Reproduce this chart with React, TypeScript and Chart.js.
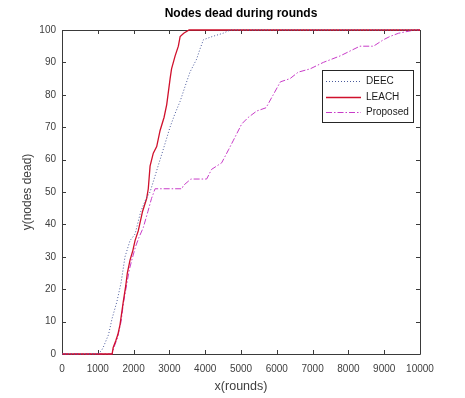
import React, { useEffect, useRef } from 'react';
import { Chart, registerables } from 'chart.js';
Chart.register(...registerables);

const chartTitle = 'Nodes dead during rounds';
const xTitle = 'x(rounds)';
const yTitle = 'y(nodes dead)';
const seriesNames = ['DEEC', 'LEACH', 'Proposed'];
const xTickValues = [0, 1000, 2000, 3000, 4000, 5000, 6000, 7000, 8000, 9000, 10000];
const yTickValues = [0, 10, 20, 30, 40, 50, 60, 70, 80, 90, 100];

const deecRounds = [0, 1000, 1100, 1150, 1300, 1400, 1530, 1650, 1760, 1900, 2040, 2200, 2350, 2460, 2600, 2740, 2880, 3017, 3150, 3300, 3450, 3575, 3760, 3850, 3950, 4200, 4500, 4700, 10000];
const deecDead = [0, 0, 1, 2, 6, 11, 16, 22, 30, 35, 37, 44, 48, 50, 55, 60, 65, 70, 74, 78, 83, 87, 91, 94, 97, 98, 99, 100, 100];

const leachRounds = [0, 1400, 1430, 1500, 1560, 1620, 1710, 1780, 1825, 1900, 1980, 2040, 2130, 2250, 2365, 2410, 2460, 2550, 2645, 2740, 2850, 2925, 3020, 3060, 3160, 3250, 3300, 3400, 3550, 10000];
const leachDead = [0, 0, 2, 4, 6, 9, 16, 21, 25, 29, 32, 35, 38, 44, 48, 51, 58, 62, 64, 69, 73, 77, 85, 88, 92, 95, 98, 99, 100, 100];

const proposedRounds = [0, 1400, 1450, 1550, 1650, 1720, 1800, 1880, 1950, 2050, 2150, 2270, 2400, 2500, 2600, 3350, 3390, 3600, 4040, 4180, 4460, 4650, 4790, 5020, 5200, 5440, 5700, 5900, 6100, 6370, 6600, 6930, 7300, 7770, 8320, 8700, 8980, 9160, 9400, 9850, 10000];
const proposedDead = [0, 0, 2, 5, 10, 16, 21, 26, 29, 33, 36, 39, 44, 48, 51, 51, 52, 54, 54, 57, 59, 63, 66, 71, 73, 75, 76, 80, 84, 85, 87, 88, 90, 92, 95, 95, 97, 98, 99, 100, 100];

const colors = ['#4a5a9c', '#d0102c', '#c83cc8'];
const dashes: number[][] = [[1, 2], [], [6, 2, 1.5, 2]];

const toPoints = (xs: number[], ys: number[]) => xs.map((x, i) => ({ x, y: ys[i] }));

const framePlugin = {
  id: 'matlabFrame',
  beforeDatasetsDraw(chart: any) {
    const { ctx, chartArea: a, scales } = chart;
    ctx.save();
    ctx.strokeStyle = '#3a3a3a';
    ctx.lineWidth = 1;
    ctx.beginPath();
    ctx.rect(Math.round(a.left) + 0.5, Math.round(a.top) + 0.5, Math.round(a.right - a.left), Math.round(a.bottom - a.top));
    const tl = 4;
    xTickValues.forEach((v) => {
      const px = Math.round(scales.x.getPixelForValue(v)) + 0.5;
      ctx.moveTo(px, a.bottom);
      ctx.lineTo(px, a.bottom - tl);
      ctx.moveTo(px, a.top);
      ctx.lineTo(px, a.top + tl);
    });
    yTickValues.forEach((v) => {
      const py = Math.round(scales.y.getPixelForValue(v)) + 0.5;
      ctx.moveTo(a.left, py);
      ctx.lineTo(a.left + tl, py);
      ctx.moveTo(a.right, py);
      ctx.lineTo(a.right - tl, py);
    });
    ctx.stroke();
    ctx.restore();
  },
  afterDatasetsDraw(chart: any) {
    const { ctx, chartArea: a } = chart;
    // title centred over the plot box
    ctx.save();
    ctx.fillStyle = '#000000';
    ctx.font = 'bold 12px "Liberation Sans", Arial, sans-serif';
    ctx.textAlign = 'center';
    ctx.textBaseline = 'middle';
    ctx.fillText(chartTitle, (a.left + a.right) / 2, 14);
    ctx.restore();

    const boxR = a.right - 7;
    const boxL = boxR - 91;
    const boxT = a.top + 40;
    const boxB = boxT + 52;
    ctx.save();
    ctx.fillStyle = '#ffffff';
    ctx.fillRect(boxL, boxT, boxR - boxL, boxB - boxT);
    ctx.strokeStyle = '#262626';
    ctx.lineWidth = 1;
    ctx.strokeRect(Math.round(boxL) + 0.5, Math.round(boxT) + 0.5, Math.round(boxR - boxL), Math.round(boxB - boxT));
    ctx.font = '10px "Liberation Sans", Arial, sans-serif';
    ctx.textBaseline = 'middle';
    ctx.textAlign = 'left';
    seriesNames.forEach((name, i) => {
      const y = Math.round(boxT + 11 + i * 15.5) + 0.5;
      ctx.beginPath();
      ctx.strokeStyle = colors[i];
      ctx.lineWidth = i === 1 ? 1.3 : 1;
      ctx.setLineDash(dashes[i]);
      ctx.moveTo(boxL + 4, y);
      ctx.lineTo(boxL + 39, y);
      ctx.stroke();
      ctx.setLineDash([]);
      ctx.fillStyle = '#1a1a1a';
      ctx.fillText(name, boxL + 44, y);
    });
    ctx.restore();
  },
};

export default function App() {
  const ref = useRef<HTMLCanvasElement | null>(null);
  useEffect(() => {
    if (!ref.current) return;
    const series = [
      toPoints(deecRounds, deecDead),
      toPoints(leachRounds, leachDead),
      toPoints(proposedRounds, proposedDead),
    ];
    const chart = new Chart(ref.current, {
      type: 'line',
      data: {
        datasets: series.map((pts, i) => ({
          label: seriesNames[i],
          data: pts,
          borderColor: colors[i],
          backgroundColor: colors[i],
          borderWidth: i === 1 ? 1.3 : 1,
          borderDash: dashes[i],
          pointRadius: 0,
          tension: 0,
          fill: false,
          clip: 3,
        })),
      },
      options: {
        responsive: false,
        animation: false,
        devicePixelRatio: 1,
        layout: { padding: { left: 0, right: 45, top: 30, bottom: 0 } },
        plugins: {
          legend: { display: false },
          tooltip: { enabled: false },
          title: { display: false },
        },
        scales: {
          x: {
            type: 'linear',
            min: 0,
            max: 10000,
            afterBuildTicks: (s: any) => { s.ticks = xTickValues.map((v) => ({ value: v })); },
            afterFit: (s: any) => { s.height = 44; },
            grid: { display: false, drawTicks: false },
            border: { display: false },
            ticks: {
              color: '#404040',
              font: { family: '"Liberation Sans", Arial, sans-serif', size: 10 },
              padding: 9,
              maxRotation: 0,
              autoSkip: false,
              callback: (v: any) => String(v),
            },
            title: {
              display: true,
              text: xTitle,
              color: '#404040',
              font: { family: '"Liberation Sans", Arial, sans-serif', size: 12.5 },
              padding: { top: 0, bottom: 4 },
            },
          },
          y: {
            type: 'linear',
            min: 0,
            max: 100,
            afterBuildTicks: (s: any) => { s.ticks = yTickValues.map((v) => ({ value: v })); },
            afterFit: (s: any) => { s.width = 62; },
            grid: { display: false, drawTicks: false },
            border: { display: false },
            ticks: {
              color: '#404040',
              font: { family: '"Liberation Sans", Arial, sans-serif', size: 10 },
              padding: 6,
              autoSkip: false,
              callback: (v: any) => String(v),
            },
            title: {
              display: true,
              text: yTitle,
              color: '#404040',
              font: { family: '"Liberation Sans", Arial, sans-serif', size: 12 },
              padding: { top: 20, bottom: 0 },
            },
          },
        },
      },
      plugins: [framePlugin],
    });
    return () => chart.destroy();
  }, []);
  return (
    <div style={{ position: 'absolute', left: 0, top: 0, width: 465, height: 398, background: '#ffffff' }}>
      <canvas ref={ref} width={465} height={398} style={{ width: 465, height: 398, display: 'block' }} />
    </div>
  );
}
